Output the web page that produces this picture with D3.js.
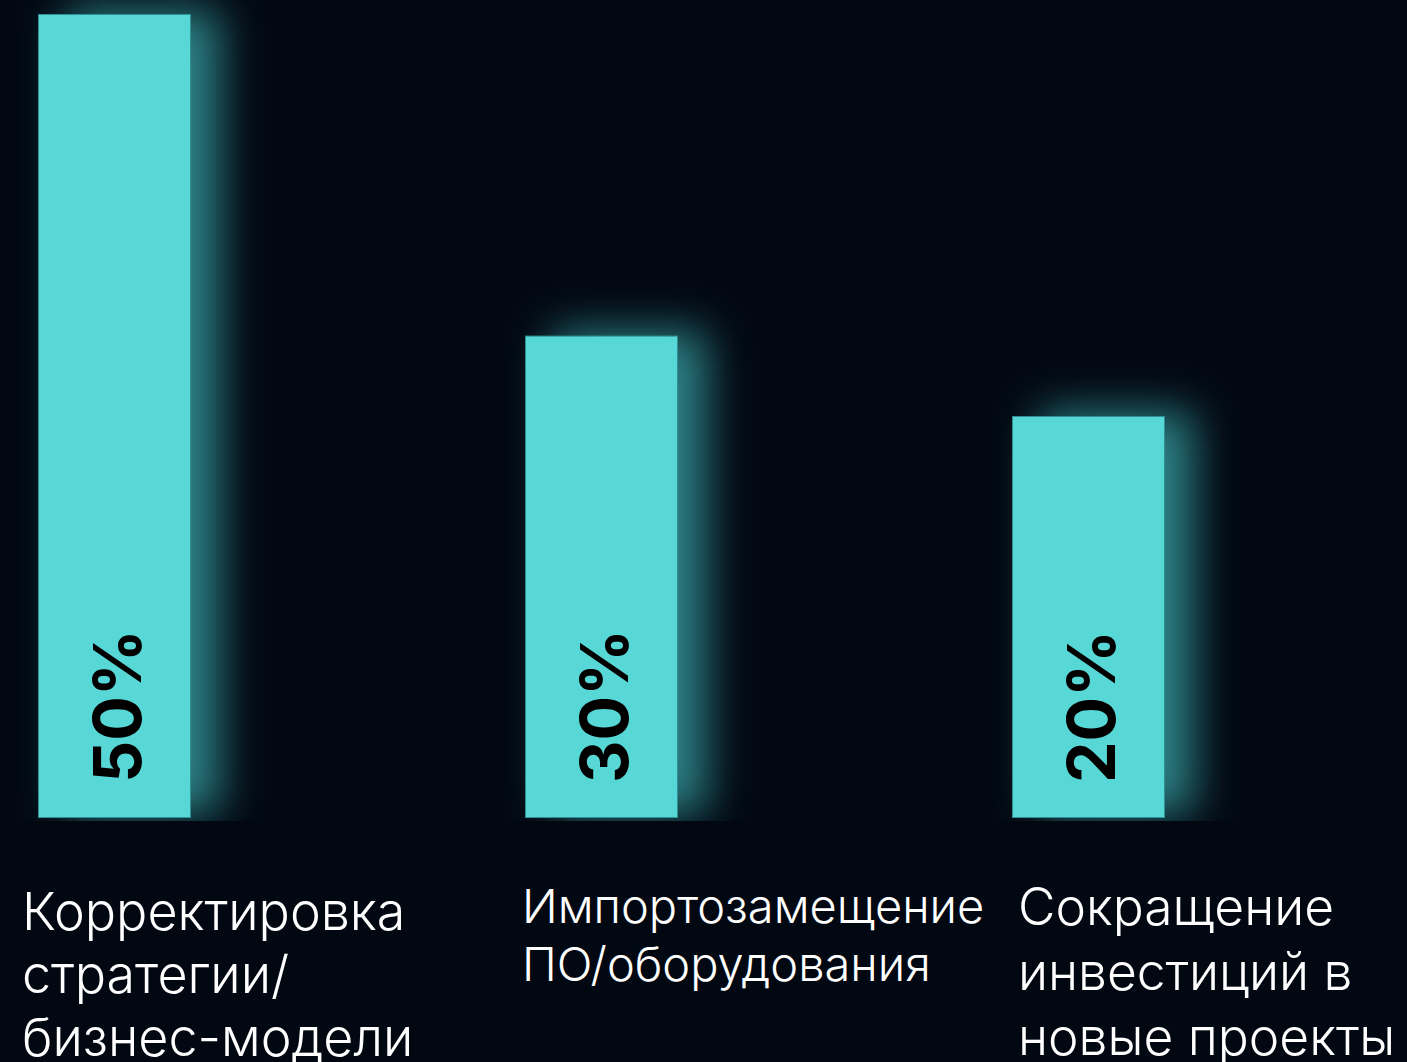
<!DOCTYPE html>
<html>
<head>
<meta charset="utf-8">
<script src="https://cdn.jsdelivr.net/npm/d3@7"></script>
<style>
  html, body { margin: 0; padding: 0; background: #020812; }
  svg { display: block; }
</style>
</head>
<body>
<div id="chart"></div>
<script>
const categories = ["strategy", "import", "invest"];
// label values as printed on the bars
const values = [50, 30, 20];
// bar lengths as drawn in the source (the third bar is longer than its label says)
const barLengths = [50, 30, 25];
const valueLabels = ["50%", "30%", "20%"];
const categoryLines = [
  ["Корректировка", "стратегии/", "бизнес-модели"],
  ["Импортозамещение", "ПО/оборудования"],
  ["Сокращение", "инвестиций в", "новые проекты"]
];

const width = 1407, height = 1062;
const baseline = 818;

// per-label text style, the source does not use one size for all of them
const labelStyle = [
  { dx: -16, y: 930, size: 52, lh: 63, ls: 0 },
  { dx: -3,  y: 923, size: 47, lh: 58, ls: 0 },
  { dx: 6,   y: 925, size: 51.5, lh: 65, ls: 0 }
];

const svg = d3.select("#chart")
  .append("svg")
    .attr("width", width)
    .attr("height", height);

svg.append("rect")
  .attr("width", width)
  .attr("height", height)
  .attr("fill", "#020812");

const defs = svg.append("defs");
const glow = defs.append("filter")
  .attr("id", "glow")
  .attr("x", "-80%").attr("y", "-30%")
  .attr("width", "260%").attr("height", "160%");
glow.append("feGaussianBlur")
  .attr("in", "SourceAlpha")
  .attr("stdDeviation", 22)
  .attr("result", "blur");
glow.append("feOffset")
  .attr("in", "blur")
  .attr("dx", 28).attr("dy", -4)
  .attr("result", "off");
glow.append("feFlood")
  .attr("flood-color", "#3fb8ba")
  .attr("flood-opacity", 0.7);
glow.append("feComposite")
  .attr("in2", "off")
  .attr("operator", "in");

defs.append("clipPath")
  .attr("id", "glowClip")
  .append("rect")
    .attr("x", 0).attr("y", 0)
    .attr("width", width).attr("height", baseline + 3);

const x = d3.scaleBand()
  .domain(categories)
  .range([38, 1165])
  .paddingInner(1 - 153 / 487)
  .paddingOuter(0);

const y = d3.scaleLinear()
  .domain([0, 50])
  .range([baseline, 14]);

// glow behind bars
svg.append("g")
  .attr("clip-path", "url(#glowClip)")
  .selectAll("rect")
  .data(categories)
  .join("rect")
    .attr("x", d => x(d))
    .attr("y", (d, i) => y(barLengths[i]))
    .attr("width", x.bandwidth())
    .attr("height", (d, i) => baseline - y(barLengths[i]))
    .attr("fill", "#58d8d6")
    .attr("filter", "url(#glow)");

// bars
svg.append("g")
  .selectAll("rect")
  .data(categories)
  .join("rect")
    .attr("x", d => x(d) + 0.5)
    .attr("y", (d, i) => y(barLengths[i]) + 0.5)
    .attr("width", x.bandwidth() - 1)
    .attr("height", (d, i) => baseline - y(barLengths[i]) - 1)
    .attr("fill", "#57d8d6")
    .attr("stroke", "#2f8f92")
    .attr("stroke-width", 1);

// value labels, rotated
svg.append("g")
  .selectAll("text")
  .data(categories)
  .join("text")
    .attr("transform", d => `translate(${x(d) + x.bandwidth() / 2 + 26},${baseline - 35}) rotate(-90)`)
    .attr("font-family", "Inter, 'DejaVu Sans', sans-serif")
    .attr("font-weight", 700)
    .attr("font-size", 66)
    .attr("fill", "#000")
    .text((d, i) => valueLabels[i]);

// category labels
const labels = svg.append("g")
  .selectAll("text")
  .data(categories)
  .join("text")
    .attr("x", (d, i) => x(d) + labelStyle[i].dx)
    .attr("y", (d, i) => labelStyle[i].y)
    .attr("font-family", "Inter, 'Noto Sans', sans-serif")
    .attr("font-weight", 300)
    .attr("font-size", (d, i) => labelStyle[i].size)
    .attr("letter-spacing", (d, i) => labelStyle[i].ls)
    .attr("fill", "#ffffff");

labels.each(function(d, i) {
  d3.select(this).selectAll("tspan")
    .data(categoryLines[i])
    .join("tspan")
      .attr("x", x(d) + labelStyle[i].dx)
      .attr("dy", (t, j) => j === 0 ? 0 : labelStyle[i].lh)
      .text(t => t);
});
</script>
</body>
</html>
